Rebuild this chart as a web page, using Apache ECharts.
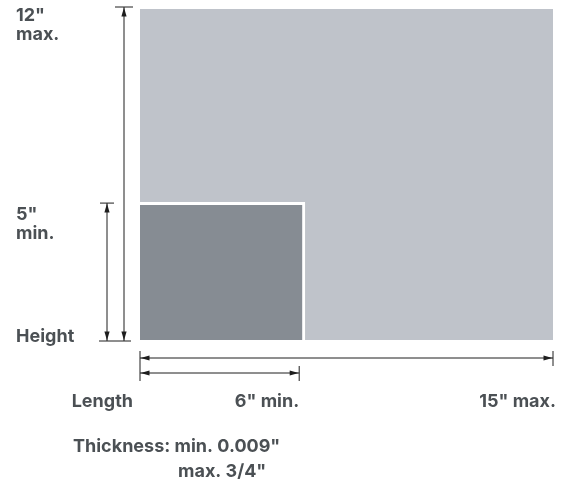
<!DOCTYPE html>
<html>
<head>
    <meta charset="utf-8"/>
    <title>Size limits</title>
    <script type="text/javascript" src="https://cdn.jsdelivr.net/npm/echarts@6/dist/echarts.min.js"></script>
    <style>
        html, body { margin: 0; padding: 0; background: #fff; }
        #chart { width: 566px; height: 481px; }
    </style>
</head>
<body>
<div id="chart"></div>
<script type="text/javascript">
    // sheet sizes in inches: [max, min]
    const lengthValues = [15, 6];
    const heightValues = [12, 5];
    const lengthLabels = ['15" max.', '6" min.'];
    const heightLabels = ['12"\nmax.', '5"\nmin.'];
    const axisTitles = ['Length', 'Height'];
    const thicknessLines = ['Thickness: min. 0.009"', 'max. 3/4"'];

    const sheetColors = ['#bfc3ca', '#868c93'];
    const textColor = '#4b5054';
    const lineColor = '#1e1e1e';
    const font = 'bold 18px Inter';

    let chart = echarts.init(document.getElementById('chart'));

    function arrow(tip, dir) {
        // dir: [dx, dy] unit vector pointing toward the tip
        let len = 9, hw = 2.6;
        let bx = tip[0] - dir[0] * len, by = tip[1] - dir[1] * len;
        return {
            type: 'polygon',
            shape: {points: [tip, [bx - dir[1] * hw, by + dir[0] * hw], [bx + dir[1] * hw, by - dir[0] * hw]]},
            style: {fill: lineColor}
        };
    }

    function seg(x1, y1, x2, y2) {
        return {
            type: 'line',
            shape: {x1: x1, y1: y1, x2: x2, y2: y2},
            style: {stroke: lineColor, lineWidth: 1}
        };
    }

    chart.setOption({
        animation: false,
        grid: {left: 140, right: 13, top: 9, bottom: 141},
        xAxis: {type: 'value', min: 0, max: 15, show: false},
        yAxis: {type: 'value', min: 0, max: 12, show: false},
        graphic: [
            {
                type: 'text', left: 73, top: 438,
                style: {text: thicknessLines[0], font: font, fill: textColor}
            },
            {
                type: 'text', left: 178, top: 463,
                style: {text: thicknessLines[1], font: font, fill: textColor}
            }
        ],
        series: [
            {
                // sheets
                type: 'custom',
                clip: false,
                data: lengthValues.map((l, i) => [l, heightValues[i]]),
                renderItem: function (params, api) {
                    let p0 = api.coord([0, 0]);
                    let p1 = api.coord([api.value(0), api.value(1)]);
                    let i = params.dataIndex;
                    let children = [{
                        type: 'rect',
                        shape: {x: p0[0], y: p1[1], width: p1[0] - p0[0], height: p0[1] - p1[1]},
                        style: {fill: sheetColors[i]}
                    }];
                    if (i > 0) {
                        children.push({
                            type: 'polyline',
                            shape: {points: [[p0[0], p1[1] + 1.5], [p1[0] - 1.5, p1[1] + 1.5], [p1[0] - 1.5, p0[1]]]},
                            style: {stroke: '#fff', lineWidth: 3, fill: null}
                        });
                    }
                    return {type: 'group', children: children};
                }
            },
            {
                // height dimension lines
                type: 'custom',
                clip: false,
                data: heightValues.map((h) => [0, h]),
                renderItem: function (params, api) {
                    let i = params.dataIndex;
                    let p0 = api.coord([0, 0]);
                    let p1 = api.coord([0, api.value(1)]);
                    let x = p0[0] + [-16, -33][i];
                    let half = [9, 7][i];
                    let yb = p0[1] + 1, yt = p1[1] + [-2, 1][i];
                    let children = [
                        seg(x, yt, x, yb),
                        seg(x - half, yt, x + half, yt),
                        arrow([x, yt + 0.5], [0, -1]),
                        arrow([x, yb - 0.5], [0, 1]),
                        {
                            type: 'text',
                            style: {
                                text: heightLabels[i], x: 16, y: yt + [-1, 2][i], font: font, fill: textColor,
                                lineHeight: 19, verticalAlign: 'top', align: 'left'
                            }
                        }
                    ];
                    if (i === 0) {
                        children.push(seg(p0[0] - 41, yb, p0[0] - 9, yb));
                        children.push({
                            type: 'text',
                            style: {
                                text: axisTitles[1], x: 16, y: yb + 5, font: font, fill: textColor,
                                verticalAlign: 'bottom', align: 'left'
                            }
                        });
                    }
                    return {type: 'group', children: children};
                }
            },
            {
                // length dimension lines
                type: 'custom',
                clip: false,
                data: lengthValues.map((l) => [l, 0]),
                renderItem: function (params, api) {
                    let i = params.dataIndex;
                    let p0 = api.coord([0, 0]);
                    let p1 = api.coord([api.value(0), 0]);
                    let y = p0[1] + [18, 33][i];
                    let xl = p0[0], xr = p1[0] + [0, -6][i];
                    let children = [
                        seg(xl, y, xr, y),
                        seg(xr, y - 7, xr, y + 8),
                        arrow([xl + 0.5, y], [-1, 0]),
                        arrow([xr - 0.5, y], [1, 0]),
                        {
                            type: 'text',
                            style: {
                                text: lengthLabels[i], x: xr + [3, 0][i], y: p0[1] + 71, font: font, fill: textColor,
                                verticalAlign: 'bottom', align: 'right'
                            }
                        }
                    ];
                    if (i === 0) {
                        children.push(seg(xl, y - 7, xl, y + 23));
                        children.push({
                            type: 'text',
                            style: {
                                text: axisTitles[0], x: xl - 7, y: p0[1] + 71, font: font, fill: textColor,
                                verticalAlign: 'bottom', align: 'right'
                            }
                        });
                    }
                    return {type: 'group', children: children};
                }
            }
        ]
    });
</script>
</body>
</html>
